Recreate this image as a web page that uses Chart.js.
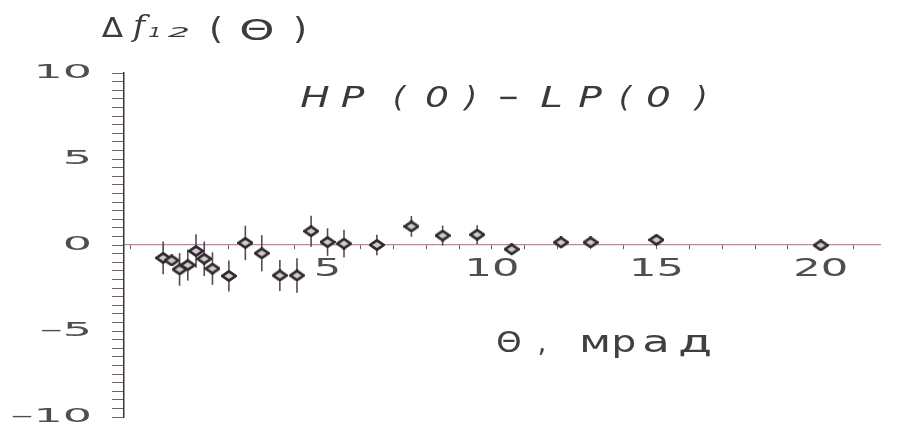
<!DOCTYPE html>
<html>
<head>
<meta charset="utf-8">
<script src="https://cdn.jsdelivr.net/npm/chart.js@4.4.1/dist/chart.umd.min.js"></script>
<style>
html,body{margin:0;padding:0;background:#ffffff;}
#wrap{width:910px;height:426px;}
</style>
</head>
<body>
<div id="wrap"><canvas id="c" width="910" height="426"></canvas></div>
<script>
// ---- data ----
const theta  = [0.0, 0.26, 0.5, 0.75, 1.0, 1.25, 1.5, 2.0, 2.5, 3.0, 3.55, 4.07, 4.5, 5.0, 5.5, 6.5, 7.55, 8.5, 9.55, 10.6, 12.1, 13.0, 15.0, 20.0];
const deltaF = [-0.75, -0.9, -1.42, -1.17, -0.35, -0.8, -1.37, -1.8, 0.12, -0.48, -1.77, -1.77, 0.8, 0.17, 0.08, 0.0, 1.08, 0.55, 0.6, -0.25, 0.15, 0.15, 0.3, -0.02];
const errF   = [0.95, 0.3, 0.95, 0.9, 0.97, 1.0, 0.95, 0.9, 1.0, 1.05, 0.9, 1.0, 0.9, 0.8, 0.8, 0.6, 0.6, 0.58, 0.55, 0.35, 0.35, 0.35, 0.3, 0.3];
const xLabelValues = [5, 10, 15, 20];
const yLabelValues = [-10, -5, 0, 5, 10];
const yTitle = 'Δf₁₂(Θ)';
const plotTitle = 'HP(0) − LP(0)';
const xTitle = 'Θ, мрад';

// ---- marker image (diamond) ----
const diamond = document.createElement('canvas');
diamond.width = 16; diamond.height = 12;
(function(){
  const g = diamond.getContext('2d');
  g.beginPath();
  g.moveTo(8, 1.3); g.lineTo(14.8, 6); g.lineTo(8, 10.7); g.lineTo(1.2, 6); g.closePath();
  g.fillStyle = '#d0caca'; g.fill();
  g.lineWidth = 2.7; g.strokeStyle = '#2e2a2c'; g.stroke();
})();

// ---- wide ("extended") lettering: horizontal stretch of canvas text ----
const STRETCH = {right: 2.3, center: 1.8, left: 1.0};
let overrideSX = null;
function patchCtx(ctx){
  if (ctx.__wide) return;
  const orig = ctx.fillText.bind(ctx);
  ctx.fillText = function(t, x, y, mw){
    const sx = overrideSX != null ? overrideSX : (STRETCH[ctx.textAlign] || 1);
    ctx.save();
    ctx.translate(x, y);
    ctx.scale(sx, 1);
    if (mw !== undefined && mw !== null) orig(t, 0, 0, mw / sx); else orig(t, 0, 0);
    ctx.restore();
  };
  ctx.__wide = true;
}

function glyphs(ctx, list, color){
  ctx.save();
  ctx.fillStyle = color;
  ctx.textAlign = 'center';
  ctx.textBaseline = 'alphabetic';
  list.forEach(g => {
    ctx.font = g.f;
    overrideSX = g.sx;
    ctx.fillText(g.t, g.x, g.y);
  });
  overrideSX = null;
  ctx.restore();
}

const wide = {
  id: 'wide',
  beforeInit(chart){ patchCtx(chart.ctx); }
};

const errorBars = {
  id: 'errorBars',
  beforeDatasetsDraw(chart){
    const ctx = chart.ctx, xs = chart.scales.x, ys = chart.scales.y;
    ctx.save();
    ctx.strokeStyle = '#5a4560';
    ctx.lineWidth = 1.6;
    theta.forEach((t, i) => {
      const px = xs.getPixelForValue(t);
      ctx.beginPath();
      ctx.moveTo(px, ys.getPixelForValue(deltaF[i] - errF[i]));
      ctx.lineTo(px, ys.getPixelForValue(deltaF[i] + errF[i]));
      ctx.stroke();
    });
    ctx.restore();
  }
};

const annotations = {
  id: 'annotations',
  afterDraw(chart){
    const ctx = chart.ctx;
    const sans = '"DejaVu Sans"';
    const yt = Array.from(yTitle);   // Δ f ₁ ₂ ( Θ )
    glyphs(ctx, [
      {t: yt[0], x: 112.5, y: 37, f: '26px ' + sans, sx: 1.2},
      {t: yt[1], x: 139, y: 36, f: 'italic 30px "DejaVu Serif"', sx: 1.1},
      {t: '1', x: 155, y: 37, f: 'italic 14px ' + sans, sx: 1.5},
      {t: '2', x: 179, y: 37, f: 'italic 14px ' + sans, sx: 2.5},
      {t: yt[4], x: 216, y: 39, f: '30px ' + sans, sx: 1.2},
      {t: yt[5], x: 257, y: 40, f: '28px ' + sans, sx: 1.6},
      {t: yt[6], x: 300, y: 39, f: '30px ' + sans, sx: 1.2}
    ], '#3c3c3c');

    const pt = Array.from(plotTitle.replace(/ /g, ''));  // H P ( 0 ) − L P ( 0 )
    const px = [315, 352.5, 399, 437, 471, 508.5, 551.5, 590, 625, 658.5, 701.5];
    const psx = [1.35, 1.35, 1.1, 1.3, 1.1, 0.9, 1.4, 1.35, 1.1, 1.35, 1.1];
    glyphs(ctx, pt.map((c, i) => ({t: c, x: px[i], y: 107, f: 'italic 29px ' + sans, sx: psx[i]})), '#3a3a3a');

    const xt = Array.from(xTitle.replace(/ /g, ''));  // Θ , м р а д
    const xx = [509, 542, 595, 624, 656, 695];
    const xsx = [1.15, 1.0, 1.4, 1.3, 1.5, 1.65];
    const xf = [28, 28, 30, 30, 30, 30];
    glyphs(ctx, xt.map((c, i) => ({t: c, x: xx[i], y: 352, f: xf[i] + 'px ' + sans, sx: xsx[i]})), '#404040');
  }
};

const fmtY = v => {
  if (!yLabelValues.some(a => Math.abs(a - v) < 1e-9)) return '';
  return v < 0 ? '\u2013' + Math.abs(v) : String(v);
};
const fmtX = v => xLabelValues.some(a => Math.abs(a - v) < 1e-9) ? String(v) : '';

new Chart(document.getElementById('c'), {
  type: 'scatter',
  data: {
    datasets: [{
      data: theta.map((t, i) => ({x: t, y: deltaF[i]})),
      pointStyle: diamond,
      pointRadius: 6,
      pointHoverRadius: 6,
      showLine: false
    }]
  },
  options: {
    responsive: false,
    devicePixelRatio: 1,
    animation: false,
    events: [],
    layout: {padding: {top: 73, right: 30, bottom: 9, left: 0}},
    plugins: {legend: {display: false}, tooltip: {enabled: false}, title: {display: false}},
    scales: {
      x: {
        type: 'linear',
        position: {y: 0},
        min: -1.19,
        max: 21.8,
        border: {display: true, color: '#b38e9c', width: 1.2},
        grid: {drawOnChartArea: false, drawTicks: true, tickLength: 4, color: '#6e5a66', lineWidth: 1},
        ticks: {
          stepSize: 1, autoSkip: false, includeBounds: false, maxRotation: 0, minRotation: 0,
          padding: 6, color: '#4f4f4f',
          font: {family: 'DejaVu Sans', size: 24},
          callback: fmtX
        },
        afterFit(s){ s.paddingLeft = 0; s.paddingRight = 0; }
      },
      y: {
        type: 'linear',
        position: 'left',
        min: -10,
        max: 10,
        border: {display: true, color: '#3f3342', width: 1.5},
        grid: {drawOnChartArea: false, drawTicks: true, tickLength: 12, color: '#6a6268', lineWidth: 1},
        ticks: {
          stepSize: 0.5, autoSkip: false, padding: 20, color: '#4f4f4f',
          font: {family: 'DejaVu Sans', size: 20},
          callback: fmtY
        },
        afterFit(s){ s.width = 124; s.paddingTop = 0; s.paddingBottom = 0; }
      }
    }
  },
  plugins: [wide, errorBars, annotations]
});
</script>
</body>
</html>
